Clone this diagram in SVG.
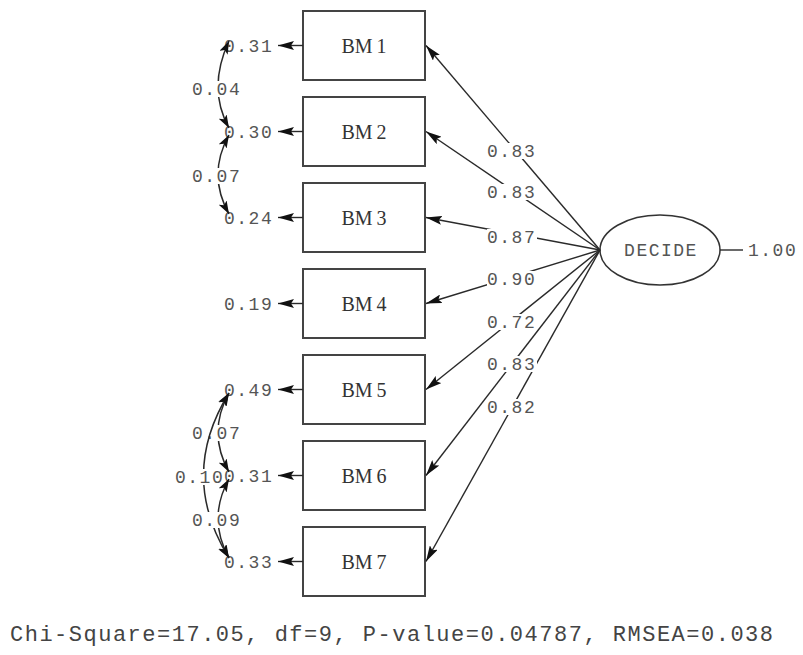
<svg xmlns="http://www.w3.org/2000/svg" width="803" height="655" viewBox="0 0 803 655">
<style>
.box{fill:#fff;stroke:#444;stroke-width:2}
.bm{font-family:"Liberation Serif",serif;font-size:20px;fill:#333;text-anchor:middle}
.lbl{font-family:"Liberation Mono",monospace;font-size:18px;letter-spacing:1.5px;fill:#555}
.ln{stroke:#2a2a2a;stroke-width:1.4;fill:none}
.arr{marker-end:url(#ah)}
.cov{stroke:#2a2a2a;stroke-width:1.5;fill:none;marker-start:url(#ah2);marker-end:url(#ah2)}
.bg{fill:#fff}
</style>
<defs>
<marker id="ah" viewBox="0 0 16 9" refX="16" refY="4.5" markerWidth="16" markerHeight="9" markerUnits="userSpaceOnUse" orient="auto"><path d="M0,0 L16,4.5 L0,9 L3,4.5 z" fill="#111"/></marker>
<marker id="ah2" viewBox="0 0 13 9" refX="13" refY="4.5" markerWidth="13" markerHeight="9" markerUnits="userSpaceOnUse" orient="auto-start-reverse"><path d="M0,0 L13,4.5 L0,9 L3,4.5 z" fill="#111"/></marker>
</defs>
<rect width="803" height="655" fill="#fff"/>
<g id="BM1"><rect class="box" x="303" y="11" width="122" height="69"/><text class="bm" x="364" y="52.5">BM<tspan dx="4">1</tspan></text></g>
<g id="BM2"><rect class="box" x="303" y="97" width="122" height="69"/><text class="bm" x="364" y="138.5">BM<tspan dx="4">2</tspan></text></g>
<g id="BM3"><rect class="box" x="303" y="183" width="122" height="69"/><text class="bm" x="364" y="224.5">BM<tspan dx="4">3</tspan></text></g>
<g id="BM4"><rect class="box" x="303" y="269" width="122" height="69"/><text class="bm" x="364" y="310.5">BM<tspan dx="4">4</tspan></text></g>
<g id="BM5"><rect class="box" x="303" y="355" width="122" height="69"/><text class="bm" x="364" y="396.5">BM<tspan dx="4">5</tspan></text></g>
<g id="BM6"><rect class="box" x="303" y="441" width="122" height="69"/><text class="bm" x="364" y="482.5">BM<tspan dx="4">6</tspan></text></g>
<g id="BM7"><rect class="box" x="303" y="527" width="122" height="69"/><text class="bm" x="364" y="568.5">BM<tspan dx="4">7</tspan></text></g>
<g id="DECIDE"><ellipse cx="660" cy="250" rx="60" ry="35" fill="#fff" stroke="#333" stroke-width="1.5"/><text class="lbl" x="661" y="256" text-anchor="middle">DECIDE</text></g>
<g id="connectors">
<line class="ln" x1="720" y1="250" x2="743" y2="250"/>
<text class="lbl" x="748" y="256">1.00</text>
<line class="ln arr" x1="600" y1="250" x2="426" y2="45.5"/>
<line class="ln arr" x1="600" y1="250" x2="426" y2="131.5"/>
<line class="ln arr" x1="600" y1="250" x2="426" y2="217.5"/>
<line class="ln arr" x1="600" y1="250" x2="426" y2="303.5"/>
<line class="ln arr" x1="600" y1="250" x2="426" y2="389.5"/>
<line class="ln arr" x1="600" y1="250" x2="426" y2="475.5"/>
<line class="ln arr" x1="600" y1="250" x2="426" y2="561.5"/>
<rect class="bg" x="487" y="143" width="50" height="16"/><text class="lbl" x="487" y="157">0.83</text>
<rect class="bg" x="487" y="184" width="50" height="16"/><text class="lbl" x="487" y="198">0.83</text>
<rect class="bg" x="487" y="229" width="50" height="16"/><text class="lbl" x="487" y="243">0.87</text>
<rect class="bg" x="487" y="271" width="50" height="16"/><text class="lbl" x="487" y="285">0.90</text>
<rect class="bg" x="487" y="314" width="50" height="16"/><text class="lbl" x="487" y="328">0.72</text>
<rect class="bg" x="487" y="356" width="50" height="16"/><text class="lbl" x="487" y="370">0.83</text>
<rect class="bg" x="487" y="399" width="50" height="16"/><text class="lbl" x="487" y="413">0.82</text>
<line class="ln arr" x1="303" y1="45.5" x2="278" y2="45.5"/>
<line class="ln arr" x1="303" y1="131.5" x2="278" y2="131.5"/>
<line class="ln arr" x1="303" y1="217.5" x2="278" y2="217.5"/>
<line class="ln arr" x1="303" y1="303.5" x2="278" y2="303.5"/>
<line class="ln arr" x1="303" y1="389.5" x2="278" y2="389.5"/>
<line class="ln arr" x1="303" y1="475.5" x2="278" y2="475.5"/>
<line class="ln arr" x1="303" y1="561.5" x2="278" y2="561.5"/>
<text class="lbl" x="224" y="51.5">0.31</text>
<text class="lbl" x="224" y="137.5">0.30</text>
<text class="lbl" x="224" y="223.5">0.24</text>
<text class="lbl" x="224" y="309.5">0.19</text>
<text class="lbl" x="224" y="395.5">0.49</text>
<text class="lbl" x="224" y="481.5">0.31</text>
<text class="lbl" x="224" y="567.5">0.33</text>
<path class="cov" d="M229,41 Q207,88.5 229,128"/>
<path class="cov" d="M229,135 Q207,174.5 229,214"/>
<path class="cov" d="M229,393 Q207,432.5 229,472"/>
<path class="cov" d="M229,479 Q207,518.5 229,558"/>
<rect class="bg" x="191" y="81" width="50" height="16"/><text class="lbl" x="192" y="95">0.04</text>
<rect class="bg" x="191" y="168" width="50" height="16"/><text class="lbl" x="192" y="182">0.07</text>
<rect class="bg" x="191" y="425" width="50" height="16"/><text class="lbl" x="192" y="439">0.07</text>
<path class="cov" d="M229,393 Q178,475.5 229,558"/>
<rect class="bg" x="174" y="469" width="46" height="16"/><text class="lbl" x="175" y="483">0.10</text>
<rect class="bg" x="191" y="512" width="50" height="16"/><text class="lbl" x="192" y="526">0.09</text>
</g>
<text x="10" y="641" font-family="Liberation Mono, monospace" font-size="22" letter-spacing="1.5" fill="#444">Chi-Square=17.05, df=9, P-value=0.04787, RMSEA=0.038</text>
</svg>
